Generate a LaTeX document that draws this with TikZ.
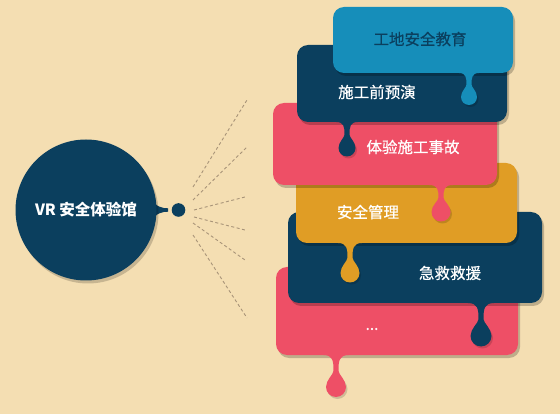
\documentclass[tikz,border=0pt]{standalone}
\usepackage{fontspec}
\newfontfamily\cjk{Noto Sans CJK SC}
\newfontfamily\cjkm[FakeBold=0.6]{Noto Sans CJK SC}
\usetikzlibrary{shadows}
\definecolor{bg}{HTML}{F4DEB2}
\definecolor{cblue}{HTML}{168EBA}
\definecolor{cnavy}{HTML}{0B3F5E}
\definecolor{cpink}{HTML}{EE4F66}
\definecolor{corange}{HTML}{E09D25}
\definecolor{cdash}{HTML}{A89478}
\tikzset{
  boxshape/.style={rectangle, rounded corners=11pt, inner sep=0pt,
    drop shadow={shadow xshift=2pt, shadow yshift=-3pt, opacity=0.22, fill=black}},
  boxtext/.style={font=\cjkm\fontsize{15.5}{17}\selectfont, text=white, inner sep=0pt},
  ray/.style={draw=cdash, dashed, dash pattern=on 3pt off 2.5pt, line width=0.9pt},
}
% \mydrip{x}{ybottom}{ycentre}{r}{colour}
\newcommand{\mydrip}[5]{%
  \fill[black, opacity=0.15] ({#1+1.5},{#3+2}) circle ({#4});
  \pgfmathsetmacro\nk{#2+0.72*(#3-#2-#4)}%
  \pgfmathsetmacro\fw{1.25*#4}%
  \fill[#5]
    ({#1-\fw},{#2-1}) -- ({#1-\fw},{#2})
    .. controls ({#1-3},{#2}) and ({#1-2.5},{#2+0.4*(\nk-#2)}) .. ({#1-2.5},{\nk})
    .. controls ({#1-2.5},{\nk+0.35*#4}) and ({#1-#4},{#3-0.7*#4}) .. ({#1-#4},{#3})
    arc[start angle=180, end angle=0, radius=#4]
    .. controls ({#1+#4},{#3-0.7*#4}) and ({#1+2.5},{\nk+0.35*#4}) .. ({#1+2.5},{\nk})
    .. controls ({#1+2.5},{#2+0.4*(\nk-#2)}) and ({#1+3},{#2}) .. ({#1+\fw},{#2})
    -- ({#1+\fw},{#2-1}) -- cycle;}
\begin{document}
\begin{tikzpicture}[x=1pt,y=-1pt]
\fill[bg] (0,0) rectangle (560,414);
\useasboundingbox (0,0) rectangle (560,414);

% hub
\fill[cnavy] (150,200) .. controls (158,207) and (162,208.3) .. (168,208.3)
  -- (168,211.7) .. controls (162,211.7) and (158,213) .. (150,220) -- cycle;
\fill[cnavy] (178.5,210) circle (6.8);
\node[circle, fill=cnavy, minimum size=141pt, inner sep=0pt,
  drop shadow={shadow xshift=2pt, shadow yshift=-3pt, opacity=0.18, fill=black},
  font=\cjk\bfseries\fontsize{15.5}{17}\selectfont, text=white] (hub) at (86,210) {VR 安全体验馆};

% rays
\coordinate (s1) at (193,187); \coordinate (e1) at (247,100);
\coordinate (s2) at (193,200); \coordinate (e2) at (247,147);
\coordinate (s3) at (194,210); \coordinate (e3) at (245,197);
\coordinate (s4) at (194,217); \coordinate (e4) at (245,230);
\coordinate (s5) at (193,223); \coordinate (e5) at (245,260);
\coordinate (s6) at (193,235); \coordinate (e6) at (247,318);
\foreach \i in {1,...,6} \draw[ray] (s\i) -- (e\i);

% box 6
\node[boxshape, fill=cpink, minimum width=242pt, minimum height=88pt] (b6) at (397,311) {};
\mydrip{336}{355}{387}{10}{cpink}
\node[boxtext] (t6) at (372,329) {...};

% box 5
\node[boxshape, fill=cnavy, minimum width=254pt, minimum height=91pt] (b5) at (415,257.5) {};
\mydrip{481}{303}{336}{10.5}{cnavy}
\node[boxtext] (t5) at (450,273) {急救救援};

% box 4
\node[boxshape, fill=corange, minimum width=221pt, minimum height=80pt] (b4) at (406.5,203) {};
\mydrip{350}{243}{273}{9.5}{corange}
\node[boxtext] (t4) at (368,212) {安全管理};

% box 3
\node[boxshape, fill=cpink, minimum width=224pt, minimum height=82pt] (b3) at (385,144) {};
\mydrip{441}{185}{212}{9.5}{cpink}
\node[boxtext] (t3) at (413,147) {体验施工事故};

% box 2
\node[boxshape, fill=cnavy, minimum width=210pt, minimum height=77pt] (b2) at (402,83.5) {};
\mydrip{347}{122}{148}{8.5}{cnavy}
\node[boxtext] (t2) at (377,92) {施工前预演};

% box 1
\node[boxshape, fill=cblue, minimum width=180pt, minimum height=66pt] (b1) at (423,40) {};
\mydrip{469}{73}{97}{8}{cblue}
\node[boxtext, text=cnavy] (t1) at (420,39) {工地安全教育};
\end{tikzpicture}
\end{document}
